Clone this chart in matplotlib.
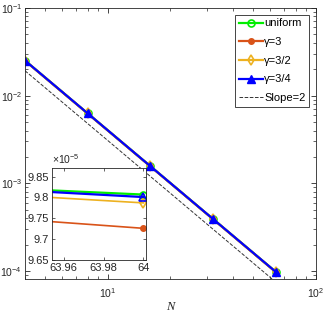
import matplotlib
matplotlib.use("Agg")
import matplotlib.pyplot as plt
from matplotlib.ticker import LogLocator, FuncFormatter, NullFormatter, FixedLocator
import numpy as np

plt.rcParams['font.family'] = ['Liberation Sans', 'DejaVu Sans']
plt.rcParams['mathtext.fontset'] = 'custom'
plt.rcParams['mathtext.rm'] = 'Liberation Sans'
plt.rcParams['mathtext.it'] = 'Liberation Sans:italic'

# ---- data ----
N = [4, 8, 16, 32, 64]
err_uniform = [0.02510, 6.275e-3, 1.569e-3, 3.922e-4, 9.807e-5]
err_g3 = [0.02493, 6.230e-3, 1.558e-3, 3.894e-4, 9.726e-5]
err_g32 = [0.02508, 6.270e-3, 1.567e-3, 3.917e-4, 9.787e-5]
err_g34 = [0.02510, 6.274e-3, 1.568e-3, 3.921e-4, 9.801e-5]
slope_N = [4, 100]
slope_err = [0.0192, 3.07e-5]

inset_N = [63.954, 64.0]
inset_uniform = [9.817e-5, 9.807e-5]
inset_g3 = [9.742e-5, 9.726e-5]
inset_g32 = [9.800e-5, 9.787e-5]
inset_g34 = [9.813e-5, 9.801e-5]
inset_yticks = [9.65e-5, 9.70e-5, 9.75e-5, 9.80e-5, 9.85e-5]
inset_xticks = [63.96, 63.98, 64.0]
inset_xticklabels = ['63.96', '63.98', '64']

labels = ['uniform', 'γ=3', 'γ=3/2', 'γ=3/4', 'Slope=2']
c_uni = '#00ee00'
c_g3 = '#D95319'
c_g32 = '#EDB120'
c_g34 = '#0000FF'
axc = '#262626'

fig = plt.figure(figsize=(3.32, 3.16), dpi=100)
ax = fig.add_axes([0.0753, 0.117, 0.8765, 0.858])

lw = 1.6
ax.loglog(N, err_uniform, '-o', color=c_uni, lw=lw, ms=5, mfc='none', mew=1.2, label=labels[0])
ax.loglog(N, err_g3, '-o', color=c_g3, lw=lw, ms=4, mfc=c_g3, label=labels[1])
ax.loglog(N, err_g32, '-d', color=c_g32, lw=lw, ms=5, mfc='none', mew=1.2, label=labels[2])
ax.loglog(N, err_g34, '-^', color=c_g34, lw=lw, ms=5.5, mfc=c_g34, label=labels[3])
ax.loglog(slope_N, slope_err, '--', color='#333333', lw=0.7, label=labels[4])

ax.set_xlim(4, 100)
ax.set_ylim(8.1e-5, 1e-1)
ax.tick_params(which='both', direction='in', top=True, right=True, colors=axc, labelsize=7.5)
ax.tick_params(axis='x', pad=5)
ax.tick_params(axis='y', pad=2)
ax.tick_params(which='major', length=3.5, width=0.6)
ax.tick_params(which='minor', length=2, width=0.5)
ax.yaxis.set_major_locator(LogLocator(base=10, numticks=10))
ax.yaxis.set_minor_locator(LogLocator(base=10, subs=np.arange(2, 10), numticks=10))
ax.yaxis.set_minor_formatter(NullFormatter())
ax.xaxis.set_minor_formatter(NullFormatter())
for s in ax.spines.values():
    s.set_color(axc)
    s.set_linewidth(0.6)
ax.set_xlabel('N', family='Liberation Serif', style='italic', fontsize=9, labelpad=1, color=axc)

leg = ax.legend(loc='upper right', fontsize=8, handlelength=2.2, handletextpad=0.1,
                borderpad=0.35, labelspacing=0.78, fancybox=False, framealpha=1,
                edgecolor=axc, borderaxespad=0.6)
leg.get_frame().set_linewidth(0.6)

# ---- inset ----
ins = fig.add_axes([0.1557, 0.1772, 0.2841, 0.2902])
ins.plot(inset_N, inset_uniform, '-o', color=c_uni, lw=lw, ms=5, mfc='none', mew=1.2, markevery=[1])
ins.plot(inset_N, inset_g3, '-o', color=c_g3, lw=1.2, ms=4, mfc=c_g3, markevery=[1])
ins.plot(inset_N, inset_g32, '-d', color=c_g32, lw=1.2, ms=5, mfc='none', mew=1.2, markevery=[1])
ins.plot(inset_N, inset_g34, '-^', color=c_g34, lw=lw, ms=5.5, mfc='none', mew=1.2, markevery=[1])
ins.set_xlim(63.954, 64.0013)
ins.set_ylim(9.65e-5, 9.87e-5)
ins.xaxis.set_major_locator(FixedLocator(inset_xticks))
ins.set_xticklabels(inset_xticklabels)
ins.yaxis.set_major_locator(FixedLocator(inset_yticks))
ins.yaxis.set_major_formatter(FuncFormatter(lambda v, p: '%g' % round(v / 1e-5, 4)))
ins.text(0.0, 1.02, r'$\times10^{-5}$', transform=ins.transAxes, fontsize=7.5, color=axc,
         ha='left', va='bottom')
ins.tick_params(which='both', direction='in', top=True, right=True, colors=axc, labelsize=8, pad=2, length=2.5, width=0.5)
for s in ins.spines.values():
    s.set_color(axc)
    s.set_linewidth(0.6)

fig.savefig('out.png', dpi=100)
